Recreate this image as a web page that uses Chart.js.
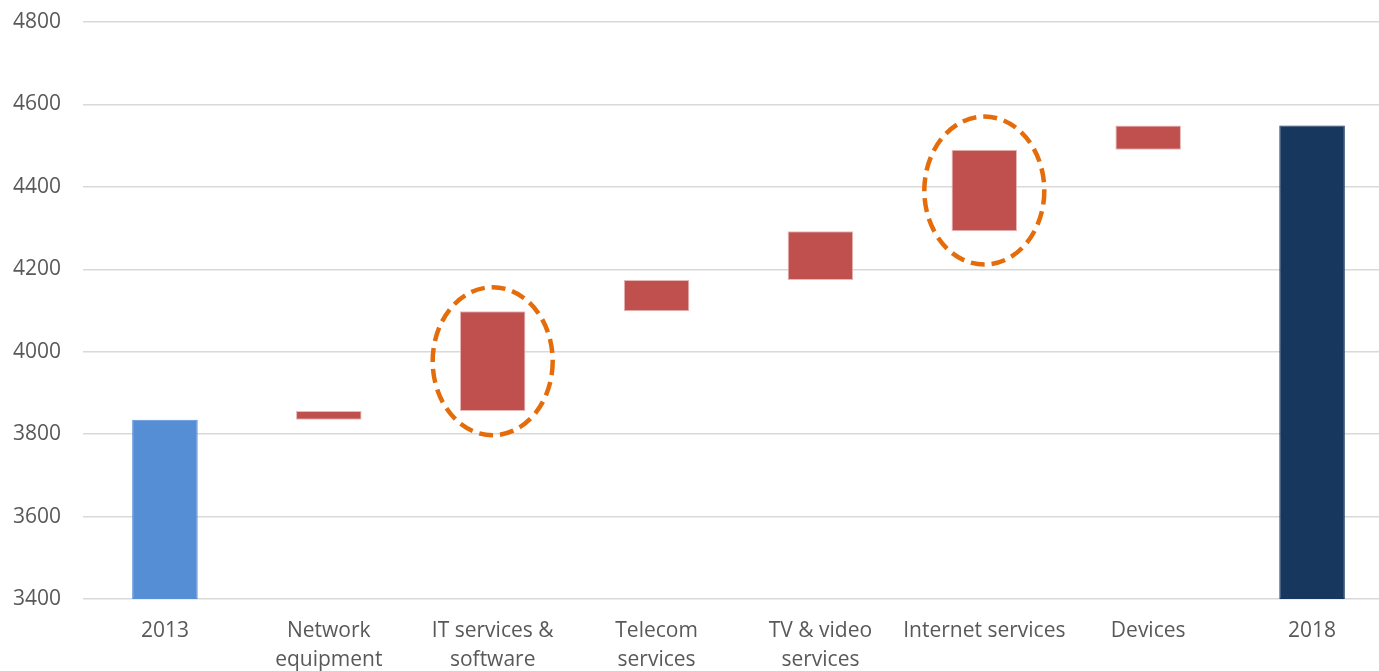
<!DOCTYPE html>
<html>
<head>
<meta charset="utf-8">
<script src="https://cdn.jsdelivr.net/npm/chart.js@4/dist/chart.umd.min.js"></script>
<style>
  html, body { margin: 0; padding: 0; background: #fff; overflow: hidden; }
  #wrap { width: 1394px; height: 671px; }
</style>
</head>
<body>
<div id="wrap"><canvas id="waterfall"></canvas></div>
<script>
// Waterfall data
const categories = [['2013'], ['Network', 'equipment'], ['IT services &', 'software'], ['Telecom', 'services'],
    ['TV & video', 'services'], ['Internet services'], ['Devices'], ['2018']];
const barLows = [3400, 3835, 3856, 4098, 4174, 4292, 4490, 3400];
const barHighs = [3835, 3856, 4098, 4174, 4292, 4490, 4549, 4549];
const barColors = ['#558ED5', '#C0504D', '#C0504D', '#C0504D', '#C0504D', '#C0504D', '#C0504D', '#17375E'];
const circled = [2, 5];
const yTicks = [3400, 3600, 3800, 4000, 4200, 4400, 4600, 4800];

const canvas = document.querySelector('#waterfall');

// dashed ellipses round the highlighted bars
const ellipsePlugin = {
    id: 'ellipses',
    afterDatasetsDraw(chart) {
        const ctx = chart.ctx;
        const x = chart.scales.x;
        const y = chart.scales.y;
        ctx.save();
        ctx.strokeStyle = '#E46C0A';
        ctx.lineWidth = 4.5;
        ctx.setLineDash([14, 7]);
        circled.forEach(i => {
            const cx = x.getPixelForValue(i);
            const cy = (y.getPixelForValue(barLows[i]) + y.getPixelForValue(barHighs[i])) / 2;
            ctx.beginPath();
            ctx.ellipse(cx, cy, 60, 74, 0, 0, Math.PI * 2);
            ctx.stroke();
        });
        ctx.restore();
    }
};

new Chart(canvas, {
    type: 'bar',
    data: {
        labels: categories,
        datasets: [{
            data: barLows.map((lo, i) => [lo, barHighs[i]]),
            backgroundColor: barColors,
            borderColor: barColors.map(c => c === '#C0504D' ? '#E6B9B8' : c),
            borderWidth: 1,
            borderSkipped: false,
            categoryPercentage: 1,
            barPercentage: 0.4
        }]
    },
    options: {
        responsive: true,
        maintainAspectRatio: false,
        animation: false,
        layout: { padding: { top: 22, left: 0, right: 0, bottom: 0 } },
        plugins: {
            legend: { display: false },
            tooltip: { enabled: false }
        },
        scales: {
            x: {
                grid: { display: false },
                border: { display: false },
                ticks: {
                    color: '#595959',
                    font: { family: 'Open Sans', size: 21, lineHeight: 1.4 },
                    padding: 9,
                    maxRotation: 0,
                    autoSkip: false
                },
                afterFit: s => { s.height = 72; }
            },
            y: {
                min: 3400,
                max: 4800,
                afterBuildTicks: s => { s.ticks = yTicks.map(v => ({ value: v })); },
                grid: { color: '#D9D9D9', lineWidth: 1.5, drawTicks: false },
                border: { display: false },
                ticks: {
                    color: '#595959',
                    font: { family: 'Open Sans', size: 21 },
                    padding: 22,
                    callback: v => String(v)
                },
                afterFit: s => {
                    s.width = 83;
                    s.paddingTop = 0;
                    s.paddingBottom = 0;
                }
            }
        }
    },
    plugins: [ellipsePlugin]
});
</script>
</body>
</html>
